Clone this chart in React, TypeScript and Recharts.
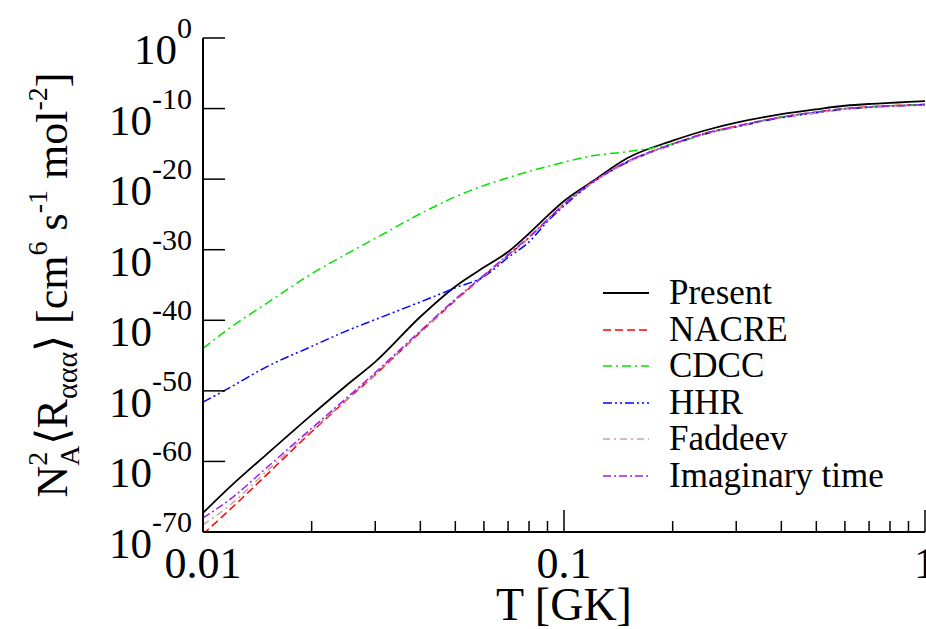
import React from 'react';
import { LineChart, Line, XAxis, YAxis, Legend } from 'recharts';

const SERIF = "'Liberation Serif', 'Times New Roman', serif";

// temperature grid (GK)
const temps = [0.01, 0.012, 0.015, 0.02, 0.025, 0.03, 0.04, 0.05, 0.06, 0.07, 0.08, 0.09, 0.1, 0.12, 0.15, 0.2, 0.25, 0.3, 0.4, 0.5, 0.6, 0.7, 0.8, 0.9, 1.0];

// log10 of N_A^2 <R_aaa>
const present = [-67.3, -63.4, -59.0, -53.4, -49.2, -45.9, -39.5, -35.2, -32.5, -30.3, -27.7, -25.2, -23.1, -20.3, -17.0, -14.55, -13.0, -12.0, -10.8, -10.1, -9.6, -9.35, -9.2, -9.05, -8.95];
const nacre = [-70.3, -66.6, -61.9, -55.8, -51.3, -47.7, -41.7, -37.2, -33.7, -30.8, -28.3, -25.8, -23.6, -20.4, -17.5, -15.0, -13.4, -12.5, -11.2, -10.5, -10.0, -9.75, -9.6, -9.5, -9.4];
const cdcc = [-44.0, -40.9, -37.6, -33.4, -30.6, -28.4, -24.9, -22.5, -20.9, -19.8, -18.9, -18.2, -17.6, -16.7, -16.1, -15.0, -13.5, -12.6, -11.2, -10.5, -10.0, -9.75, -9.6, -9.5, -9.4];
const hhr = [-51.6, -49.4, -46.6, -43.7, -41.5, -39.9, -37.4, -35.4, -33.8, -31.1, -28.9, -26.0, -23.8, -20.5, -17.6, -15.1, -13.5, -12.6, -11.3, -10.6, -10.1, -9.8, -9.65, -9.55, -9.45];
const faddeev = [-69.0, -66.0, -61.4, -55.6, -51.2, -47.6, -41.6, -37.1, -33.7, -30.8, -28.3, -25.8, -23.6, -20.5, -17.6, -15.1, -13.5, -12.6, -11.3, -10.6, -10.1, -9.85, -9.7, -9.6, -9.5];
const imagTime = [-68.0, -65.2, -60.9, -55.3, -51.0, -47.4, -41.5, -37.0, -33.6, -30.7, -28.2, -25.7, -23.5, -20.4, -17.5, -15.0, -13.4, -12.5, -11.2, -10.5, -10.0, -9.8, -9.65, -9.55, -9.45];

const xTicks = [0.01, 0.02, 0.03, 0.04, 0.05, 0.06, 0.07, 0.08, 0.09, 0.1, 0.2, 0.3, 0.4, 0.5, 0.6, 0.7, 0.8, 0.9, 1];
const yTicks = [-70, -60, -50, -40, -30, -20, -10, 0];

const series = [
  { key: 'present', name: 'Present', color: '#000000', dash: undefined as string | undefined, width: 1.8 },
  { key: 'nacre', name: 'NACRE', color: '#ff0000', dash: '8 4', width: 1.5 },
  { key: 'cdcc', name: 'CDCC', color: '#00e600', dash: '9 4 2 4', width: 1.5 },
  { key: 'hhr', name: 'HHR', color: '#0000ff', dash: '9 3 2 3 2 3', width: 1.5 },
  { key: 'faddeev', name: 'Faddeev', color: '#c8a0a6', dash: '7 4 2 4', width: 1.5 },
  { key: 'imag', name: 'Imaginary time', color: '#a020f0', dash: '8 3 2 3', width: 1.5 },
];

const rows = temps.map((T, i) => ({
  T,
  present: present[i],
  nacre: nacre[i],
  cdcc: cdcc[i],
  hhr: hhr[i],
  faddeev: faddeev[i],
  imag: imagTime[i],
}));

const isDecade = (v: number) => Math.abs(Math.log10(v) - Math.round(Math.log10(v))) < 1e-6;

const XTickBottom = ({ x, y, payload }: any) => {
  const major = isDecade(payload.value);
  return (
    <g>
      <line x1={x} y1={y} x2={x} y2={y - (major ? 22 : 11)} stroke="#000" strokeWidth={1.5} />
      {major && (
        <text x={x} y={y + 46} textAnchor="middle" fontSize={44} fontFamily={SERIF} fill="#000">
          {String(payload.value)}
        </text>
      )}
    </g>
  );
};

const XTickTop = ({ x, y, payload }: any) => {
  const major = isDecade(payload.value);
  return <line x1={x} y1={y} x2={x} y2={y + (major ? 22 : 11)} stroke="#000" strokeWidth={1.5} />;
};

const YTickLeft = ({ x, y, payload }: any) => (
  <g>
    <line x1={x} y1={y} x2={x + 22} y2={y} stroke="#000" strokeWidth={1.5} />
    <text x={x - 11} y={y + 26} textAnchor="end" fontSize={43} fontFamily={SERIF} fill="#000">
      10
      <tspan dy={-26} fontSize={30}>{String(payload.value)}</tspan>
    </text>
  </g>
);

const YTickRight = ({ x, y }: any) => (
  <line x1={x} y1={y} x2={x - 22} y2={y} stroke="#000" strokeWidth={1.5} />
);

const XTitle = ({ viewBox }: any) => (
  <text
    x={viewBox.x + viewBox.width / 2}
    y={viewBox.y + 88}
    textAnchor="middle"
    fontSize={46}
    fontFamily={SERIF}
    fill="#000"
  >
    T [GK]
  </text>
);

const YTitle = ({ viewBox }: any) => {
  const cx = viewBox.x + 67;
  const cy = viewBox.y + viewBox.height / 2;
  return (
    <text
      x={cx}
      y={cy}
      transform={`rotate(-90, ${cx}, ${cy})`}
      textAnchor="middle"
      fontSize={44}
      fontFamily={SERIF}
      fill="#000"
    >
      N
      <tspan fontSize={28} dy={-20}>2</tspan>
      <tspan fontSize={28} dx={-14} dy={32}>A</tspan>
      <tspan dy={-12}>⟨R</tspan>
      <tspan fontSize={30} dy={10}>ααα</tspan>
      <tspan dy={-10}>⟩ [cm</tspan>
      <tspan fontSize={28} dy={-20}>6</tspan>
      <tspan dy={20}> s</tspan>
      <tspan fontSize={28} dy={-20}>-1</tspan>
      <tspan dy={20}> mol</tspan>
      <tspan fontSize={28} dy={-20}>-2</tspan>
      <tspan dy={20}>]</tspan>
    </text>
  );
};

const renderLegend = () => (
  <div style={{ fontFamily: SERIF, fontSize: 35, color: '#000' }}>
    {series.map((s) => (
      <div key={s.key} style={{ display: 'flex', alignItems: 'center', height: 36.5 }}>
        <svg width={46} height={10}>
          <line x1={0} y1={5} x2={46} y2={5} stroke={s.color} strokeWidth={s.width} strokeDasharray={s.dash} />
        </svg>
        <span style={{ marginLeft: 20, lineHeight: '36px' }}>{s.name}</span>
      </div>
    ))}
  </div>
);

export default function App() {
  return (
    <div style={{ position: 'absolute', left: 0, top: 0, background: '#fff' }}>
      <LineChart width={926} height={629} data={rows} margin={{ top: 38, right: 1, bottom: 0, left: 0 }}>
        <XAxis
          dataKey="T"
          type="number"
          scale="log"
          domain={[0.01, 1]}
          ticks={xTicks}
          interval={0}
          allowDataOverflow
          height={97}
          tickSize={0}
          tickMargin={0}
          tickLine={false}
          axisLine={{ stroke: '#000', strokeWidth: 2 }}
          tick={<XTickBottom />}
          label={{ content: <XTitle /> }}
        />
        <XAxis
          xAxisId="top"
          orientation="top"
          dataKey="T"
          type="number"
          scale="log"
          domain={[0.01, 1]}
          ticks={xTicks}
          interval={0}
          allowDataOverflow
          height={0}
          tickSize={0}
          tickMargin={0}
          tickLine={false}
          axisLine={{ stroke: '#000', strokeWidth: 2 }}
          tick={<XTickTop />}
        />
        <YAxis
          type="number"
          domain={[-70, 0]}
          ticks={yTicks}
          interval={0}
          allowDataOverflow
          width={203}
          tickSize={0}
          tickMargin={0}
          tickLine={false}
          axisLine={{ stroke: '#000', strokeWidth: 2 }}
          tick={<YTickLeft />}
          label={{ content: <YTitle /> }}
        />
        <YAxis
          yAxisId="right"
          orientation="right"
          type="number"
          domain={[-70, 0]}
          ticks={yTicks}
          interval={0}
          allowDataOverflow
          width={0}
          tickSize={0}
          tickMargin={0}
          tickLine={false}
          axisLine={{ stroke: '#000', strokeWidth: 2 }}
          tick={<YTickRight />}
        />
        <Legend
          layout="horizontal"
          verticalAlign="middle"
          align="center"
          content={renderLegend}
          wrapperStyle={{ left: 603, top: 275, width: 320 }}
        />
        {series.map((s) => (
          <Line
            key={s.key}
            type="monotone"
            dataKey={s.key}
            name={s.name}
            stroke={s.color}
            strokeWidth={s.width}
            strokeDasharray={s.dash}
            dot={false}
            activeDot={false}
            isAnimationActive={false}
          />
        ))}
      </LineChart>
    </div>
  );
}
